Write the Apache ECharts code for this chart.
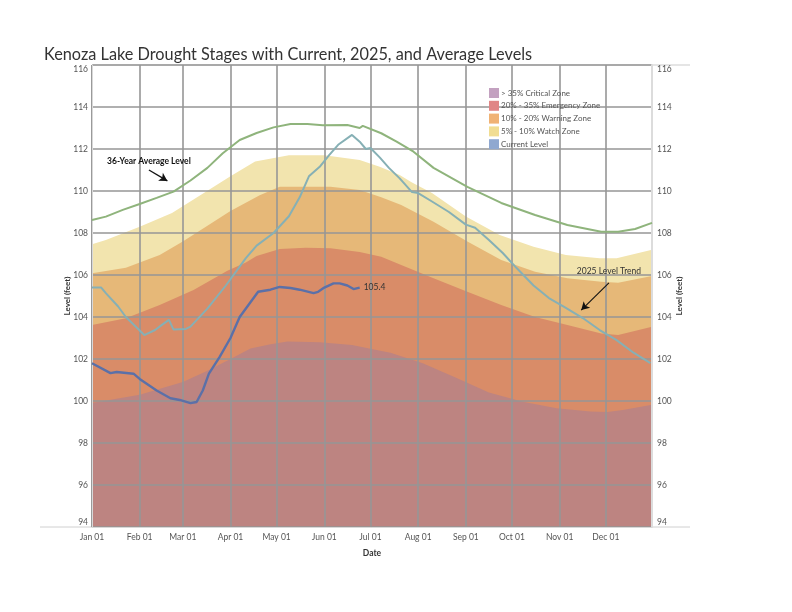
<!DOCTYPE html>
<html>
<head>
<meta charset="utf-8">
<script src="https://cdn.jsdelivr.net/npm/echarts@6/dist/echarts.min.js"></script>
<style>
html,body{margin:0;padding:0;background:#fff;}
#chart{width:792px;height:612px;}
</style>
</head>
<body>
<div id="chart"></div>
<script>
// ---- Data ----
const titleText = 'Kenoza Lake Drought Stages with Current, 2025, and Average Levels';
const yMin = 94, yMax = 116, yStep = 2;
const xMin = '2025-01-01', xMax = '2025-12-31';

const criticalTop = [
  ['2025-01-01', 99.9], ['2025-02-01', 100.3], ['2025-03-01', 100.9], ['2025-03-16', 101.4],
  ['2025-04-01', 102.0], ['2025-04-14', 102.5], ['2025-04-27', 102.7], ['2025-05-08', 102.83],
  ['2025-05-29', 102.8], ['2025-06-19', 102.67], ['2025-07-05', 102.43], ['2025-07-14', 102.3],
  ['2025-08-04', 101.8], ['2025-08-26', 101.1], ['2025-09-16', 100.4], ['2025-10-08', 99.97],
  ['2025-10-30', 99.65], ['2025-11-21', 99.5], ['2025-12-02', 99.48], ['2025-12-12', 99.57],
  ['2025-12-31', 99.82]
];
const emergencyTop = [
  ['2025-01-01', 103.62], ['2025-01-23', 103.94], ['2025-02-14', 104.57], ['2025-03-08', 105.29],
  ['2025-03-30', 106.2], ['2025-04-11', 106.6], ['2025-04-18', 106.9], ['2025-05-03', 107.24],
  ['2025-05-20', 107.3], ['2025-06-05', 107.27], ['2025-06-24', 107.1], ['2025-07-08', 106.87],
  ['2025-07-21', 106.48], ['2025-08-11', 105.84], ['2025-09-02', 105.2], ['2025-09-24', 104.57],
  ['2025-10-16', 104.0], ['2025-11-06', 103.62], ['2025-11-28', 103.22], ['2025-12-09', 103.14],
  ['2025-12-31', 103.54]
];
const warningTop = [
  ['2025-01-01', 106.08], ['2025-01-23', 106.35], ['2025-02-14', 106.95], ['2025-03-01', 107.6],
  ['2025-03-15', 108.25], ['2025-04-01', 109.05], ['2025-04-20', 109.8], ['2025-05-03', 110.2],
  ['2025-06-05', 110.2], ['2025-06-24', 110.05], ['2025-07-08', 109.7], ['2025-07-21', 109.33],
  ['2025-08-11', 108.54], ['2025-09-02', 107.6], ['2025-09-24', 106.71], ['2025-10-16', 106.16],
  ['2025-11-06', 105.84], ['2025-11-28', 105.68], ['2025-12-09', 105.63], ['2025-12-31', 105.95]
];
const watchTop = [
  ['2025-01-01', 107.47], ['2025-01-10', 107.67], ['2025-02-01', 108.3], ['2025-02-22', 108.95],
  ['2025-03-16', 109.97], ['2025-04-01', 110.7], ['2025-04-17', 111.4], ['2025-05-09', 111.7],
  ['2025-06-01', 111.7], ['2025-06-24', 111.48], ['2025-07-07', 111.16], ['2025-07-20', 110.76],
  ['2025-07-28', 110.4], ['2025-08-10', 109.9], ['2025-09-01', 108.78], ['2025-09-23', 107.9],
  ['2025-10-15', 107.35], ['2025-11-05', 106.95], ['2025-11-27', 106.8], ['2025-12-08', 106.8],
  ['2025-12-31', 107.2]
];
const averageLevel = [
  ['2025-01-01', 108.62], ['2025-01-10', 108.78], ['2025-01-21', 109.1], ['2025-02-01', 109.38],
  ['2025-02-12', 109.67], ['2025-02-23', 109.97], ['2025-03-06', 110.5], ['2025-03-17', 111.1],
  ['2025-03-27', 111.8], ['2025-04-07', 112.43], ['2025-04-18', 112.76], ['2025-04-29', 113.03],
  ['2025-05-10', 113.19], ['2025-05-21', 113.19], ['2025-05-31', 113.13], ['2025-06-16', 113.14],
  ['2025-06-24', 113.0], ['2025-06-26', 113.1], ['2025-07-08', 112.75], ['2025-07-18', 112.35],
  ['2025-07-29', 111.87], ['2025-08-11', 111.1], ['2025-09-02', 110.2], ['2025-09-24', 109.43],
  ['2025-10-16', 108.86], ['2025-11-06', 108.38], ['2025-11-28', 108.06], ['2025-12-09', 108.06],
  ['2025-12-20', 108.19], ['2025-12-31', 108.48]
];
const trendLevel = [
  ['2025-01-01', 105.4], ['2025-01-07', 105.4], ['2025-01-10', 105.14], ['2025-01-18', 104.5],
  ['2025-01-23', 104.0], ['2025-01-30', 103.5], ['2025-02-04', 103.14], ['2025-02-11', 103.38],
  ['2025-02-15', 103.6], ['2025-02-20', 103.86], ['2025-02-23', 103.4], ['2025-03-03', 103.43],
  ['2025-03-06', 103.54], ['2025-03-17', 104.4], ['2025-03-29', 105.5], ['2025-04-11', 106.8],
  ['2025-04-18', 107.4], ['2025-04-29', 108.0], ['2025-05-09', 108.8], ['2025-05-16', 109.7],
  ['2025-05-22', 110.7], ['2025-05-29', 111.15], ['2025-06-04', 111.7], ['2025-06-10', 112.2],
  ['2025-06-19', 112.67], ['2025-06-24', 112.35], ['2025-06-28', 112.0], ['2025-07-01', 112.05],
  ['2025-07-07', 111.6], ['2025-07-13', 111.1], ['2025-07-20', 110.6], ['2025-07-28', 109.95],
  ['2025-08-01', 109.9], ['2025-08-10', 109.5], ['2025-08-21', 109.0], ['2025-09-01', 108.4],
  ['2025-09-07', 108.25], ['2025-09-16', 107.67], ['2025-09-25', 107.05], ['2025-10-04', 106.33],
  ['2025-10-15', 105.5], ['2025-10-25', 104.9], ['2025-11-05', 104.43], ['2025-11-16', 103.95],
  ['2025-11-27', 103.38], ['2025-12-08', 102.9], ['2025-12-19', 102.3], ['2025-12-30', 101.8]
];
const currentLevel = [
  ['2025-01-01', 101.8], ['2025-01-13', 101.33], ['2025-01-17', 101.38], ['2025-01-28', 101.3],
  ['2025-02-01', 101.05], ['2025-02-12', 100.5], ['2025-02-21', 100.13], ['2025-02-27', 100.05],
  ['2025-03-06', 99.9], ['2025-03-10', 99.95], ['2025-03-14', 100.5], ['2025-03-18', 101.3],
  ['2025-03-25', 102.1], ['2025-04-01', 103.0], ['2025-04-07', 104.0], ['2025-04-14', 104.7],
  ['2025-04-19', 105.2], ['2025-04-27', 105.3], ['2025-05-03', 105.43], ['2025-05-10', 105.38],
  ['2025-05-16', 105.3], ['2025-05-25', 105.14], ['2025-05-28', 105.2], ['2025-06-01', 105.4],
  ['2025-06-07', 105.6], ['2025-06-11', 105.6], ['2025-06-16', 105.5], ['2025-06-20', 105.33],
  ['2025-06-24', 105.4]
];
const averageNote = { text: '36-Year Average Level', at: ['2025-02-07', 111.42], arrowFrom: ['2025-02-07', 111.0], arrowTo: ['2025-02-19', 110.48] };
const trendNote = { text: '2025 Level Trend', at: ['2025-12-03', 106.16], arrowFrom: ['2025-12-03', 105.63], arrowTo: ['2025-11-15', 104.33] };

const zoneNames = ['> 35% Critical Zone', '20% - 35% Emergency Zone', '10% - 20% Warning Zone', '5% - 10% Watch Zone'];
const currentName = 'Current Level';

// ---- Chart ----
const FONT = 'Lato';
const chart = echarts.init(document.getElementById('chart'), null, { renderer: 'canvas' });

function zone(name, data, color) {
  return {
    name: name, type: 'line', data: data, showSymbol: false, symbol: 'none',
    lineStyle: { width: 0 }, itemStyle: { color: color },
    areaStyle: { color: color, opacity: 1, origin: 'start' },
    z: 1, silent: true, animation: false
  };
}

const gridLine = { show: true, lineStyle: { color: '#969696', width: 1.6 } };

const option = {
  animation: false,
  title: {
    text: titleText, left: 44, top: 47, padding: 0,
    textStyle: { fontFamily: FONT, fontSize: 16.3, fontWeight: 'normal', color: '#333' }
  },
  legend: {
    orient: 'vertical', left: 484, top: 83, itemWidth: 10, itemHeight: 10, itemGap: 2.8,
    icon: 'rect', selectedMode: false,
    textStyle: { fontFamily: FONT, fontSize: 8, color: '#555', padding: [0, 0, 0, -3] },
    data: [
      { name: zoneNames[0], itemStyle: { color: '#c3a1c0' } },
      { name: zoneNames[1], itemStyle: { color: '#e08686' } },
      { name: zoneNames[2], itemStyle: { color: '#f0b274' } },
      { name: zoneNames[3], itemStyle: { color: '#f1dd92' } },
      { name: currentName, itemStyle: { color: '#8fa8d0' } }
    ]
  },
  grid: { left: 92, right: 140, top: 65, bottom: 85 },
  xAxis: {
    type: 'time', min: xMin, max: xMax, z: 2,
    splitNumber: 12, maxInterval: 31 * 86400000, minInterval: 28 * 86400000,
    name: 'Date', nameLocation: 'middle', nameGap: 22, nameMoveOverlap: false,
    nameTextStyle: { fontFamily: FONT, fontSize: 8.5, fontWeight: 'bold', color: '#333' },
    axisLine: { show: true, lineStyle: { color: '#d8d8d8', width: 1 } },
    axisTick: { show: false },
    axisLabel: {
      formatter: '{MMM} {dd}', fontFamily: FONT, fontSize: 8.5, color: '#555', margin: 6,
      alignMinLabel: 'left', showMaxLabel: false, hideOverlap: false
    },
    splitLine: gridLine
  },
  yAxis: [
    {
      type: 'value', min: yMin, max: yMax, interval: yStep, position: 'left', z: 2,
      name: 'Level (feet)', nameLocation: 'middle', nameGap: 21, nameRotate: 90, nameMoveOverlap: false,
      nameTextStyle: { fontFamily: FONT, fontSize: 8, fontWeight: 'bold', color: '#333' },
      axisLine: { show: true, lineStyle: { color: '#d8d8d8', width: 1 } },
      axisTick: { show: false },
      axisLabel: { fontFamily: FONT, fontSize: 8.5, color: '#555', margin: 4,
        verticalAlignMaxLabel: 'top', verticalAlignMinLabel: 'bottom' },
      splitLine: gridLine
    },
    {
      type: 'value', min: yMin, max: yMax, interval: yStep, position: 'right', z: 2,
      name: 'Level (feet)', nameLocation: 'middle', nameGap: 23, nameRotate: 90, nameMoveOverlap: false,
      nameTextStyle: { fontFamily: FONT, fontSize: 8, fontWeight: 'bold', color: '#333' },
      axisLine: { show: true, lineStyle: { color: '#dcdcdc', width: 2 } },
      axisTick: { show: false },
      axisLabel: { fontFamily: FONT, fontSize: 8.5, color: '#555', margin: 5,
        verticalAlignMaxLabel: 'top', verticalAlignMinLabel: 'bottom' },
      splitLine: { show: false }
    }
  ],
  series: [
    zone(zoneNames[3], watchTop, '#f2e4ae'),
    zone(zoneNames[2], warningTop, '#e6b878'),
    zone(zoneNames[1], emergencyTop, '#d98c68'),
    zone(zoneNames[0], criticalTop, '#bd8481'),
    {
      name: '36-Year Average Level', type: 'line', data: averageLevel, showSymbol: false, symbol: 'none',
      lineStyle: { color: '#8fb47c', width: 2 }, itemStyle: { color: '#8fb47c' }, z: 3, silent: true,
      markLine: {
        silent: true, symbol: ['none', 'arrow'], symbolSize: [7, 8],
        lineStyle: { color: '#111', width: 1.3, type: 'solid' }, label: { show: false },
        data: [[{ coord: averageNote.arrowFrom }, { coord: averageNote.arrowTo }]]
      },
      markPoint: {
        silent: true, symbol: 'circle', symbolSize: 0,
        label: { show: true, position: 'inside', fontFamily: FONT, fontSize: 8.5, fontWeight: 'bold', color: '#111' },
        data: [{ coord: averageNote.at, value: averageNote.text, label: { formatter: averageNote.text } }]
      }
    },
    {
      name: '2025 Level Trend', type: 'line', data: trendLevel, showSymbol: false, symbol: 'none',
      lineStyle: { color: '#86b0b5', width: 2 }, itemStyle: { color: '#86b0b5' }, z: 3, silent: true,
      markLine: {
        silent: true, symbol: ['none', 'arrow'], symbolSize: [7, 8],
        lineStyle: { color: '#111', width: 1.1, type: 'solid' }, label: { show: false },
        data: [[{ coord: trendNote.arrowFrom }, { coord: trendNote.arrowTo }]]
      },
      markPoint: {
        silent: true, symbol: 'circle', symbolSize: 0,
        label: { show: true, position: 'inside', fontFamily: FONT, fontSize: 8.5, color: '#333' },
        data: [{ coord: trendNote.at, value: trendNote.text, label: { formatter: trendNote.text } }]
      }
    },
    {
      name: currentName, type: 'line', data: currentLevel, showSymbol: false, symbol: 'none',
      lineStyle: { color: '#5b70a8', width: 2.4 }, itemStyle: { color: '#5b70a8' }, z: 4, silent: true,
      endLabel: {
        show: true, distance: 4, fontFamily: FONT, fontSize: 8.5, color: '#333',
        formatter: function (p) { return Number(p.value[1]).toFixed(1); }
      }
    }
  ]
};
chart.setOption(option);

// Light frame lines extending beyond the plot, as in the reference layout
const yBottom = chart.convertToPixel({ yAxisIndex: 0 }, yMin);
const yTop = chart.convertToPixel({ yAxisIndex: 0 }, yMax);
chart.setOption({
  graphic: [
    { type: 'line', silent: true, z: 0, shape: { x1: 40, y1: yBottom, x2: 690, y2: yBottom }, style: { stroke: '#d0d0d0', lineWidth: 1 } },
    { type: 'line', silent: true, z: 0, shape: { x1: 92, y1: yTop, x2: 690, y2: yTop }, style: { stroke: '#dcdcdc', lineWidth: 1.5 } }
  ]
});
</script>
</body>
</html>
